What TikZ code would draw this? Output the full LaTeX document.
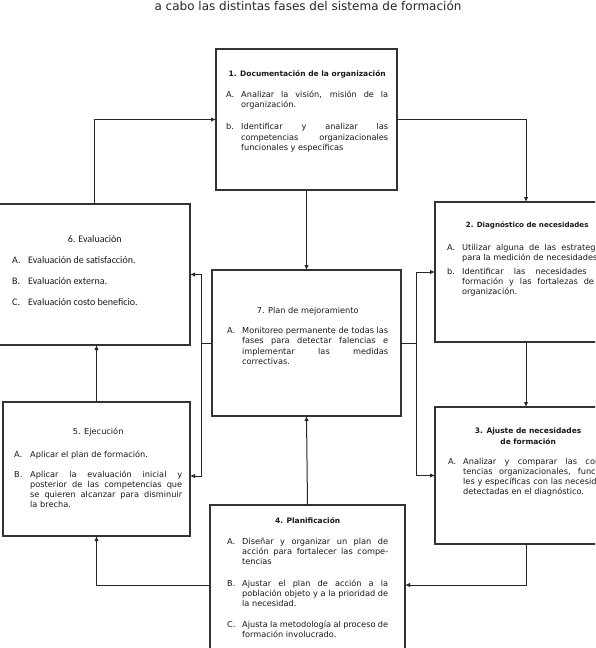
\documentclass[tikz,border=0pt]{standalone}
\usepackage{fontspec}
\setmainfont{DejaVu Sans}
\newfontfamily\calfont{Carlito}
\newfontfamily\titlefont{DejaVu Sans}
\usetikzlibrary{arrows.meta}
\newcommand{\hd}[2]{{\centering #2\par}\vspace{#1}}
\newcommand{\bh}{\bfseries\fontsize{7.5}{10.2}\selectfont}
\newcommand{\li}[3]{\noindent\hangindent=15pt\hangafter=1\makebox[15pt][l]{#1}#2\par\vspace{#3}}
\tikzset{
  box/.style={draw=black!80, line width=1.6pt, rectangle, inner sep=0pt, outer sep=0pt, anchor=north west},
  txt/.style={anchor=north west, inner sep=0pt, align=justify, font=\fontsize{8.2}{10.2}\selectfont, text=black!90},
  conn/.style={draw=black!85, line width=1pt},
  arr/.style={conn, -{Latex[length=5pt,width=4.5pt]}},
}
\begin{document}
\begin{tikzpicture}[x=1pt,y=-1pt]
\clip (0,0) rectangle (595,648);
\fill[white] (0,0) rectangle (595,648);
\node[anchor=base, font=\titlefont\fontsize{12}{13}\selectfont, text=black!85] (title) at (308,10.5) {a cabo las distintas fases del sistema de formación};

% boxes
\node[box, minimum width=181pt, minimum height=141pt] (b1) at (216,49) {};
\node[box, minimum width=192pt, minimum height=141pt] (b6) at (-2,204) {};
\node[box, minimum width=182pt, minimum height=140pt] (b2) at (435,202) {};
\node[box, minimum width=189pt, minimum height=146pt] (b7) at (212,270) {};
\node[box, minimum width=187pt, minimum height=134pt] (b5) at (3,402) {};
\node[box, minimum width=182pt, minimum height=137pt] (b3) at (435,407) {};
\node[box, minimum width=195pt, minimum height=160pt] (b4) at (210,505) {};

% texts
\node[txt, text width=162pt] (t1) at (226,70) {%
\hd{11pt}{\bh 1. Documentación de la organización}
\li{A.}{Analizar la visión, misión de la\linebreak organización.}{12pt}
\li{b.}{Identificar y analizar las\linebreak competencias organizacionales\linebreak funcionales y específicas}{0pt}};

\node[txt, text width=165pt, font=\calfont\fontsize{10}{10.2}\selectfont] (t6) at (12,235) {%
\hd{11pt}{6. Evaluación}
\noindent\hangindent=16pt\makebox[16pt][l]{A.}Evaluación de satisfacción.\par\vspace{11pt}
\noindent\hangindent=16pt\makebox[16pt][l]{B.}Evaluación externa.\par\vspace{11pt}
\noindent\hangindent=16pt\makebox[16pt][l]{C.}Evaluación costo beneficio.\par};

\node[txt, text width=160pt] (t2) at (447,222) {%
\hd{12pt}{\bfseries\fontsize{7.1}{10.2}\selectfont 2. Diagnóstico de necesidades}
\li{A.}{Utilizar alguna de las estrategias\linebreak para la medición de necesidades.}{4pt}
\li{b.}{Identificar las necesidades de\linebreak formación y las fortalezas de la\linebreak organización.}{0pt}};

\node[txt, text width=161pt] (t7) at (227,307) {%
\hd{10pt}{7. Plan de mejoramiento}
\li{A.}{Monitoreo permanente de todas las\linebreak fases para detectar falencias e\linebreak implementar las medidas\linebreak correctivas.}{0pt}};

\node[txt, text width=168pt] (t5) at (14,428) {%
\hd{13pt}{5. Ejecución}
\noindent\hangindent=16pt\makebox[16pt][l]{A.}Aplicar el plan de formación.\par\vspace{9pt}
\noindent\hangindent=16pt\hangafter=1\makebox[16pt][l]{B.}Aplicar la evaluación inicial y\linebreak posterior de las competencias que\linebreak se quieren alcanzar para disminuir\linebreak la brecha.\par};

\node[txt, text width=168pt] (t3) at (448,428) {%
\hd{10pt}{\hspace*{-8pt}\bh 3. Ajuste de necesidades\\ \hspace*{-8pt}de formación}
\li{A.}{Analizar y comparar las compe-\linebreak tencias organizacionales, funciona-\linebreak les y específicas con las necesidades\linebreak detectadas en el diagnóstico.}{0pt}};

\node[txt, text width=161pt] (t4) at (227,517) {%
\hd{11pt}{\bh 4. Planificación}
\li{A.}{Diseñar y organizar un plan de\linebreak acción para fortalecer las compe-\linebreak tencias}{11pt}
\li{B.}{Ajustar el plan de acción a la\linebreak población objeto y a la prioridad de\linebreak la necesidad.}{11pt}
\li{C.}{Ajusta la metodología al proceso de\linebreak formación involucrado.}{0pt}};

% connectors
\draw[arr] (b6.north) |- (b1.west);
\draw[arr] (b1.east) -| (b2.north);
\draw[arr] (b1.south) -- (b7.north);
\draw[arr] (b2.south) -- (b3.north);
\draw[arr] (b3.south) |- (b4.east);
\draw[arr] (b4.west) -| (b5.south);
\draw[arr] (b5.north) -- (b5.north |- b6.south);
\draw[arr] (b4.north) -- (b7.south);
\coordinate (L) at (201,343);
\coordinate (R) at (416,343);
\draw[conn] (b7.west) -- (L);
\draw[conn] (b7.east) -- (R);
\draw[arr] (L) |- (b6.east);
\draw[arr] (L) |- ([yshift=-7pt]b5.east);
\draw[arr] (R) |- (b2.west);
\draw[arr] (R) |- (b3.west);
\end{tikzpicture}
\end{document}
